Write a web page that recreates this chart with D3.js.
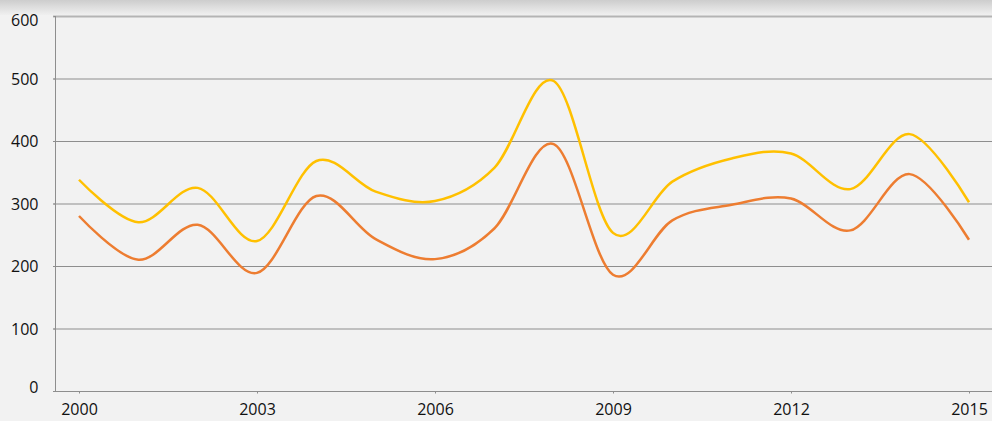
<!DOCTYPE html>
<html>
<head>
<meta charset="utf-8">
<script src="https://cdn.jsdelivr.net/npm/d3@7"></script>
<style>
  html, body { margin: 0; padding: 0; background: #f2f2f2; }
  svg { display: block; }
  .tick text { font-family: "Open Sans", sans-serif; font-size: 16px; fill: #111; }
</style>
</head>
<body>
<div id="chart"></div>
<script>
// years on the x axis
const years = d3.range(2000, 2016);
const xTickYears = [2000, 2003, 2006, 2009, 2012, 2015];
const yTicks = [0, 100, 200, 300, 400, 500, 600];

// series values
const yellowValues = [338, 270, 325, 240, 368, 319, 304, 357, 496, 253, 335, 372, 380, 323, 411, 302];
const orangeValues = [280, 210, 266, 189, 312, 243, 211, 260, 395, 186, 273, 298, 308, 257, 347, 242];

const width = 992, height = 421;
const margin = { top: 16, right: 0, bottom: 30, left: 55 };

const svg = d3.select("#chart").append("svg")
    .attr("width", width)
    .attr("height", height);

// top shadow band
const defs = svg.append("defs");
const grad = defs.append("linearGradient")
    .attr("id", "topShade")
    .attr("x1", 0).attr("y1", 0).attr("x2", 0).attr("y2", 1);
grad.append("stop").attr("offset", "0%").attr("stop-color", "#cdcdcd");
grad.append("stop").attr("offset", "100%").attr("stop-color", "#f0f0f0");

svg.append("rect")
    .attr("width", width).attr("height", height)
    .attr("fill", "#f2f2f2");
svg.append("rect")
    .attr("width", width).attr("height", 15)
    .attr("fill", "url(#topShade)");

const x = d3.scaleLinear()
    .domain([2000, 2015])
    .range([79, 969]);

const y = d3.scaleLinear()
    .domain([0, 600])
    .range([height - margin.bottom, margin.top]);

// gridlines
svg.append("g")
  .selectAll("line")
  .data(yTicks.filter(d => d > 0))
  .enter()
  .append("line")
    .attr("x1", margin.left - 2)
    .attr("x2", width)
    .attr("y1", d => y(d) + 0.5)
    .attr("y2", d => y(d) + 0.5)
    .attr("stroke", d => d === 600 ? "#b4b4b4" : "#8e8e8e")
    .attr("stroke-width", d => d === 600 ? 2 : 1);

// y axis
const yAxis = svg.append("g")
    .attr("transform", `translate(${margin.left + 0.5},0)`)
    .call(d3.axisLeft(y).tickValues(yTicks).tickSize(2).tickPadding(15));
yAxis.select(".domain").attr("stroke", "#8e8e8e")
    .attr("d", `M-2,${y(0) + 0.5}H0V${y(600)}`);
yAxis.selectAll(".tick line").attr("stroke", "#8e8e8e");
yAxis.selectAll(".tick text").attr("dy", d => (d === 600 ? 0.6 : d === 0 ? 0.1 : 0.35) + "em");

// x axis
const xAxis = svg.append("g")
    .attr("transform", `translate(0,${y(0) + 0.5})`)
    .call(d3.axisBottom(x).tickValues(xTickYears).tickFormat(d3.format("d")).tickSize(2).tickPadding(10));
xAxis.select(".domain").attr("stroke", "#8e8e8e")
    .attr("d", `M${margin.left - 2},0H${width}`);
xAxis.selectAll(".tick line").attr("stroke", "#8e8e8e");

// smoothed lines
const line = d3.line()
    .x(d => x(d.year))
    .y(d => y(d.value))
    .curve(d3.curveCatmullRom.alpha(0));

const series = [
  { name: "yellow", color: "#ffc000", values: yellowValues },
  { name: "orange", color: "#ed7d31", values: orangeValues }
];

svg.append("g")
  .selectAll("path")
  .data(series)
  .enter()
  .append("path")
    .attr("fill", "none")
    .attr("stroke", d => d.color)
    .attr("stroke-width", 2.5)
    .attr("stroke-linejoin", "round")
    .attr("d", d => line(d.values.map((v, i) => ({ year: years[i], value: v }))));
</script>
</body>
</html>
